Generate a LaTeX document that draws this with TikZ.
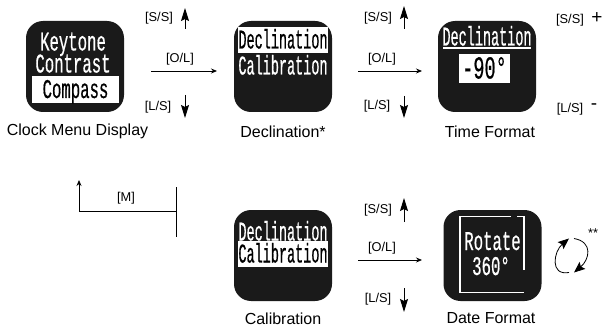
\documentclass[tikz,border=0pt]{standalone}
\usepackage{fontspec}
\setmainfont{Liberation Sans}
\newfontfamily\lcdfont[FakeStretch=0.5,FakeBold=0.5]{Liberation Mono}
\newfontfamily\lcdwide[FakeStretch=0.58,FakeBold=0.5]{Liberation Mono}
\usetikzlibrary{arrows.meta,positioning}
\definecolor{lcdblack}{HTML}{1A1A1A}
\tikzset{
	display/.style={fill=lcdblack, rounded corners=17pt, minimum width=98pt, minimum height=91pt, inner sep=0pt},
	lcdtext/.style={text=white, inner sep=0pt, text height=17pt, text depth=0pt, font=\lcdfont\fontsize{27}{27}\selectfont},
	lcdwider/.style={text=white, inner sep=0pt, text height=17pt, text depth=0pt, font=\lcdwide\fontsize{27}{27}\selectfont},
	lcdbar/.style={fill=white, text=black, inner sep=0pt, text height=17pt, text depth=0pt, minimum width=87pt, minimum height=26.5pt, font=\lcdfont\fontsize{27}{27}\selectfont},
	caption/.style={inner sep=0pt, font=\fontsize{16}{18}\selectfont},
	keylabel/.style={inner sep=0pt, font=\fontsize{12.8}{15}\selectfont},
	flow/.style={-{Stealth[length=6pt,width=5pt]}, line width=0.8pt},
	updown/.style={-{Stealth[length=13pt,width=8pt,inset=2pt]}, line width=1pt},
	turn/.style={-{Stealth[length=11pt,width=9pt,inset=2pt]}, line width=0.8pt}
}
\begin{document}
\begin{tikzpicture}[x=1pt, y=1pt, on grid, node distance=20pt]
	\useasboundingbox (0,0) rectangle (605,-326);

	% the five screens
	\node 	(clock) 	[display] at (75,-66.5) 		{};
	\node 	(decl) 	[display, right=208pt of clock]		{};
	\node 	(time) 	[display, right=204pt of decl]		{};
	\node 	(calib) [display, below=189pt of decl]		{};
	\node 	(date) 	[display, right=209.5pt of calib]	{};

	% screen contents
	\node	(keytone)	[lcdwider, above=24.5pt of clock, xshift=-2pt]	{Keytone};
	\node	(contrast)	[lcdwider, above=2.5pt of clock, xshift=-2pt]	{Contrast};
	\node	(compass)	[lcdbar, font=\lcdwide\fontsize{27}{27}\selectfont, below=23pt of clock, xshift=0.5pt]	{Compass};

	\node	(declbar)	[lcdbar, above=26.5pt of decl]			{Declination};
	\node	(declcal)	[lcdtext, above=0.5pt of decl]			{Calibration};

	\node	(timehead)	[lcdtext, above=29.5pt of time]			{Declination};
	\node	(timeline)	[above=18.5pt of time, fill=white, minimum width=88pt, minimum height=2pt, inner sep=0pt] {};
	\node	(timeval)	[below=2pt of time, xshift=-2.5pt, fill=white, text=black, text height=20pt, text depth=0pt, minimum width=51pt, minimum height=29pt, inner sep=0pt, font=\lcdwide\fontsize{32}{32}\selectfont] {-90°};

	\node	(calhead)	[lcdtext, above=23.5pt of calib]		{Declination};
	\node	(calbar)	[lcdbar, above=1.5pt of calib]			{Calibration};

	\node	(rotate)	[lcdwider, above=14pt of date]			{Rotate};
	\node	(degrees)	[lcdwider, below=11pt of date, xshift=-1.5pt]	{360°};
	\draw [white, line width=1.3pt]
	([shift={(18.5,39)}]date.center) -- ([shift={(-32.5,39)}]date.center)
	-- ([shift={(-32.5,-37)}]date.center) -- ([shift={(31.5,-37)}]date.center);
	\draw [white, line width=1.3pt]
	([shift={(24.5,39)}]date.center) -- ([shift={(31.5,39)}]date.center) -- ([shift={(31.5,-14)}]date.center);

	% captions
	\node	(clockcap)	[caption, below=65pt of clock, xshift=2.5pt]	{Clock Menu Display};
	\node	(declcap)	[caption, below=65pt of decl]			{Declination*};
	\node	(timecap)	[caption, below=65pt of time, xshift=3pt]	{Time Format};
	\node	(calcap)	[caption, below=63pt of calib]			{Calibration};
	\node	(datecap)	[caption, below=63pt of date, xshift=-1.5pt]	{Date Format};

	% first row keys
	\coordinate	(ola)	at (151,-71);
	\coordinate	[right=66pt of ola]	(olb);
	\coordinate	[above=42pt of ola, xshift=34pt]	(ssa);
	\coordinate	[above=63pt of ola, xshift=34pt]	(ssb);
	\coordinate	[below=24pt of ola, xshift=34pt]	(lsa);
	\coordinate	[below=47pt of ola, xshift=34pt]	(lsb);
	\node	(olal)	[keylabel, above=12pt of ola, anchor=center, xshift=29pt]	{[O/L]};
	\node	(ssal)	[keylabel, above=53pt of ola, anchor=center, xshift=8pt]	{[S/S]};
	\node	(lsal)	[keylabel, below=36pt of ola, anchor=center, xshift=7pt]	{[L/S]};

	\coordinate	(olc)	at (358,-71);
	\coordinate	[right=64pt of olc]	(old);
	\coordinate	[above=42pt of olc, xshift=46pt]	(ssc);
	\coordinate	[above=65pt of olc, xshift=46pt]	(ssd);
	\coordinate	[below=25pt of olc, xshift=46pt]	(lsc);
	\coordinate	[below=47pt of olc, xshift=46pt]	(lsd);
	\node	(olcl)	[keylabel, above=12pt of olc, anchor=center, xshift=24pt]	{[O/L]};
	\node	(sscl)	[keylabel, above=53pt of olc, anchor=center, xshift=20pt]	{[S/S]};
	\node	(lscl)	[keylabel, below=35pt of olc, anchor=center, xshift=19pt]	{[L/S]};

	\node	(plusl)		[keylabel, right=83pt of time, yshift=46.5pt]	{[S/S]};
	\node	(plus)		[right=27pt of plusl, yshift=2pt, inner sep=0pt, font=\fontsize{19}{19}\selectfont]	{+};
	\node	(minusl)	[keylabel, right=83pt of time, yshift=-42.5pt]	{[L/S]};
	\node	(minus)		[right=24pt of minusl, yshift=2pt, inner sep=0pt, font=\fontsize{19}{19}\selectfont]	{-};

	% back to the menu
	\coordinate	(mmid)	at (176,-211);
	\coordinate	[above=24pt of mmid]	(mtop);
	\coordinate	[below=26pt of mmid]	(mbot);
	\coordinate	[left=97pt of mmid]	(mturn);
	\coordinate	[above=31pt of mturn]	(mhead);
	\node	(ml)	[keylabel, above=13pt of mmid, anchor=center, xshift=-50pt]	{[M]};

	% second row keys
	\coordinate	(ole)	at (358,-260);
	\coordinate	[right=64pt of ole]	(olf);
	\coordinate	[above=38pt of ole, xshift=46pt]	(sse);
	\coordinate	[above=62pt of ole, xshift=46pt]	(ssf);
	\coordinate	[below=28pt of ole, xshift=46pt]	(lse);
	\coordinate	[below=52pt of ole, xshift=46pt]	(lsf);
	\node	(olel)	[keylabel, above=12pt of ole, anchor=center, xshift=24pt]	{[O/L]};
	\node	(ssel)	[keylabel, above=50pt of ole, anchor=center, xshift=20pt]	{[S/S]};
	\node	(lsel)	[keylabel, below=39pt of ole, anchor=center, xshift=20pt]	{[L/S]};

	% rotation mark
	\coordinate	[right=79.5pt of date]	(rotc);
	\coordinate	[above=17pt of rotc, xshift=-3pt]	(rota);
	\coordinate	[below=17pt of rotc, xshift=-3pt]	(rotb);
	\coordinate	[above=17pt of rotc, xshift=2pt]	(rotd);
	\coordinate	[below=17pt of rotc, xshift=2pt]	(rote);
	\node	(stars)	[keylabel, right=21pt of rotc, anchor=center, yshift=22pt]	{**};

	\path [flow]
	(ola)	edge	(olb)
	(olc)	edge	(old)
	(ole)	edge	(olf)
	;
	\path [updown]
	(ssa)	edge	(ssb)
	(lsa)	edge	(lsb)
	(ssc)	edge	(ssd)
	(lsc)	edge	(lsd)
	(sse)	edge	(ssf)
	(lse)	edge	(lsf)
	;
	\draw [line width=0.8pt] (mtop) -- (mbot);
	\draw [-{Stealth[length=6pt,width=5pt]}, line width=0.8pt] (mmid) -- (mturn) -- (mhead);
	\path [turn]
	(rotb)	edge [out=190, in=220, looseness=1.5]	(rota)
	(rotd)	edge [out=-10, in=40, looseness=1.5]	(rote)
	;
\end{tikzpicture}
\end{document}
